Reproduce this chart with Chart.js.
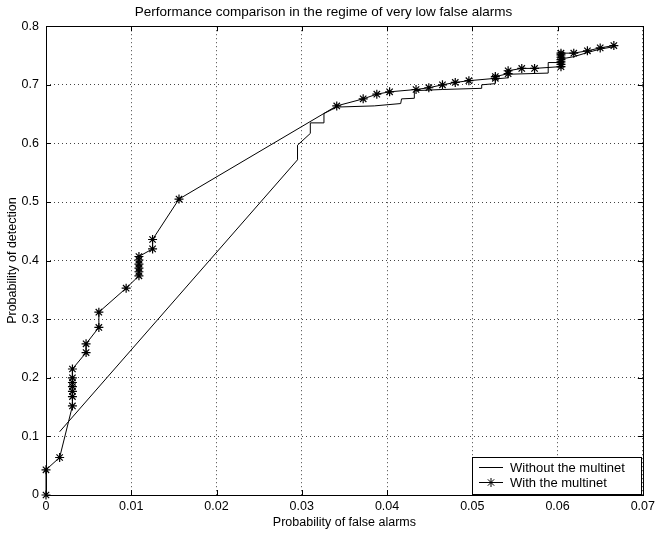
<!DOCTYPE html>
<html>
<head>
<meta charset="utf-8">
<script src="https://cdn.jsdelivr.net/npm/chart.js@4.4.0/dist/chart.umd.min.js"></script>
<style>
  html, body { margin: 0; padding: 0; background: #fff; }
</style>
</head>
<body>
<canvas id="rocChart" width="659" height="535"></canvas>
<script>
// ROC curve without the multinet (plain line)
const withoutFa = [0.0016, 0.0295, 0.0295, 0.0310, 0.0310, 0.0326, 0.0326, 0.0341, 0.0385, 0.0416,
  0.0417, 0.0432, 0.0432, 0.0465, 0.0511, 0.0511, 0.0527, 0.0527, 0.0542, 0.0542,
  0.0589, 0.0589, 0.0604, 0.0604, 0.0619, 0.0635, 0.0650, 0.0666];
const withoutPd = [0.108, 0.572, 0.597, 0.617, 0.635, 0.635, 0.651, 0.662, 0.664, 0.668,
  0.676, 0.677, 0.690, 0.692, 0.694, 0.700, 0.702, 0.710, 0.712, 0.718,
  0.720, 0.738, 0.738, 0.744, 0.748, 0.755, 0.761, 0.765];

// ROC curve with the multinet (line with stars)
const withFa = [0, 0, 0.0016, 0.0031, 0.0031, 0.0031, 0.0031, 0.0031, 0.0031, 0.0031,
  0.0047, 0.0047, 0.0062, 0.0062, 0.0094, 0.0109, 0.0109, 0.0109, 0.0109, 0.0109,
  0.0109, 0.0125, 0.0125, 0.0156, 0.0341, 0.0372, 0.0388, 0.0403, 0.0434, 0.0449,
  0.0465, 0.0480, 0.0496, 0.0527, 0.0527, 0.0542, 0.0542, 0.0558, 0.0573, 0.0604,
  0.0604, 0.0604, 0.0604, 0.0604, 0.0604, 0.0604, 0.0619, 0.0635, 0.0650, 0.0666];
const withPd = [0, 0.043, 0.064, 0.152, 0.168, 0.177, 0.185, 0.192, 0.200, 0.215,
  0.243, 0.258, 0.286, 0.312, 0.353, 0.374, 0.381, 0.387, 0.394, 0.401,
  0.407, 0.420, 0.436, 0.505, 0.664, 0.676, 0.684, 0.688, 0.692, 0.695,
  0.700, 0.704, 0.707, 0.711, 0.714, 0.719, 0.724, 0.728, 0.728, 0.731,
  0.735, 0.739, 0.743, 0.747, 0.751, 0.754, 0.754, 0.758, 0.763, 0.767];

const xTicks = [0, 0.01, 0.02, 0.03, 0.04, 0.05, 0.06, 0.07];
const yTicks = [0, 0.1, 0.2, 0.3, 0.4, 0.5, 0.6, 0.7, 0.8];

const FONT = '"Liberation Sans", Arial, Helvetica, sans-serif';

function toPoints(xs, ys) {
  return xs.map((x, i) => ({ x: x, y: ys[i] }));
}

function drawStar(ctx, x, y, r) {
  const d = r * Math.SQRT1_2;
  ctx.beginPath();
  ctx.moveTo(x - r, y); ctx.lineTo(x + r, y);
  ctx.moveTo(x, y - r); ctx.lineTo(x, y + r);
  ctx.moveTo(x - d, y - d); ctx.lineTo(x + d, y + d);
  ctx.moveTo(x - d, y + d); ctx.lineTo(x + d, y - d);
  ctx.stroke();
}

// solid box round the plot plus small inward tick marks (matlab look)
const frame = {
  id: 'frame',
  afterDatasetsDraw(chart) {
    const { ctx, chartArea: a, scales } = chart;
    ctx.save();
    ctx.strokeStyle = '#000';
    ctx.lineWidth = 1;
    ctx.strokeRect(Math.round(a.left) + 0.5, Math.round(a.top) + 0.5,
      Math.round(a.right - a.left), Math.round(a.bottom - a.top));
    ctx.beginPath();
    xTicks.forEach(v => {
      const px = Math.round(scales.x.getPixelForValue(v)) + 0.5;
      ctx.moveTo(px, a.bottom); ctx.lineTo(px, a.bottom - 5);
      ctx.moveTo(px, a.top); ctx.lineTo(px, a.top + 5);
    });
    yTicks.forEach(v => {
      const py = Math.round(scales.y.getPixelForValue(v)) + 0.5;
      ctx.moveTo(a.left, py); ctx.lineTo(a.left + 5, py);
      ctx.moveTo(a.right, py); ctx.lineTo(a.right - 5, py);
    });
    ctx.stroke();
    ctx.restore();
  }
};

// legend box in the lower right corner of the plot
const cornerLegend = {
  id: 'cornerLegend',
  afterDraw(chart) {
    const { ctx, chartArea: a } = chart;
    const w = 169, h = 37;
    const x = Math.round(a.right) - w - 2, y = Math.round(a.bottom) - h - 1;
    ctx.save();
    ctx.fillStyle = '#fff';
    ctx.fillRect(x, y, w, h);
    ctx.strokeStyle = '#000';
    ctx.lineWidth = 1;
    ctx.strokeRect(x + 0.5, y + 0.5, w, h);
    ctx.font = '13px ' + FONT;
    ctx.textBaseline = 'middle';
    ctx.fillStyle = '#000';
    chart.data.datasets.forEach((ds, i) => {
      const cy = y + 10.5 + i * 15;
      ctx.beginPath();
      ctx.moveTo(x + 7, cy); ctx.lineTo(x + 31, cy);
      ctx.stroke();
      if (ds.pointRadius > 0) drawStar(ctx, x + 19, cy, 4.5);
      ctx.fillText(ds.label, x + 38, cy + 0.5);
    });
    ctx.restore();
  }
};

Chart.defaults.color = '#000';
Chart.defaults.font.family = FONT;
Chart.defaults.font.size = 12.5;

new Chart(document.getElementById('rocChart'), {
  type: 'scatter',
  data: {
    datasets: [{
      label: 'Without the multinet',
      data: toPoints(withoutFa, withoutPd),
      showLine: true,
      borderColor: '#000',
      borderWidth: 1,
      pointRadius: 0,
      tension: 0
    }, {
      label: 'With the multinet',
      data: toPoints(withFa, withPd),
      showLine: true,
      borderColor: '#000',
      backgroundColor: '#000',
      borderWidth: 1,
      pointStyle: 'star',
      pointRadius: 4.5,
      pointBorderWidth: 1.2,
      tension: 0,
      clip: false
    }]
  },
  options: {
    responsive: false,
    animation: false,
    layout: { padding: { left: 0, right: 12, top: 0, bottom: 0 } },
    plugins: {
      legend: { display: false },
      tooltip: { enabled: false },
      title: {
        display: true,
        text: 'Performance comparison in the regime of very low false alarms',
        font: { size: 13.5, weight: 'normal' },
        padding: { top: 4, bottom: 6 }
      }
    },
    scales: {
      x: {
        type: 'linear',
        min: 0,
        max: 0.07,
        afterBuildTicks: s => { s.ticks = xTicks.map(v => ({ value: v })); },
        afterFit: s => { s.height = 40; },
        ticks: { padding: 4, maxRotation: 0, callback: v => String(+v.toFixed(2)) },
        grid: { color: '#444', drawTicks: false },
        border: { display: false, dash: [1, 3] },
        title: { display: true, text: 'Probability of false alarms', padding: { top: 0, bottom: 5 } }
      },
      y: {
        type: 'linear',
        min: 0,
        max: 0.8,
        afterBuildTicks: s => { s.ticks = yTicks.map(v => ({ value: v })); },
        afterFit: s => { s.width = 46; },
        ticks: { padding: 7, callback: v => String(+v.toFixed(1)) },
        grid: { color: '#444', drawTicks: false },
        border: { display: false, dash: [1, 3] },
        title: { display: true, text: 'Probability of detection', padding: { top: 5, bottom: 0 } }
      }
    }
  },
  plugins: [frame, cornerLegend]
});
</script>
</body>
</html>
